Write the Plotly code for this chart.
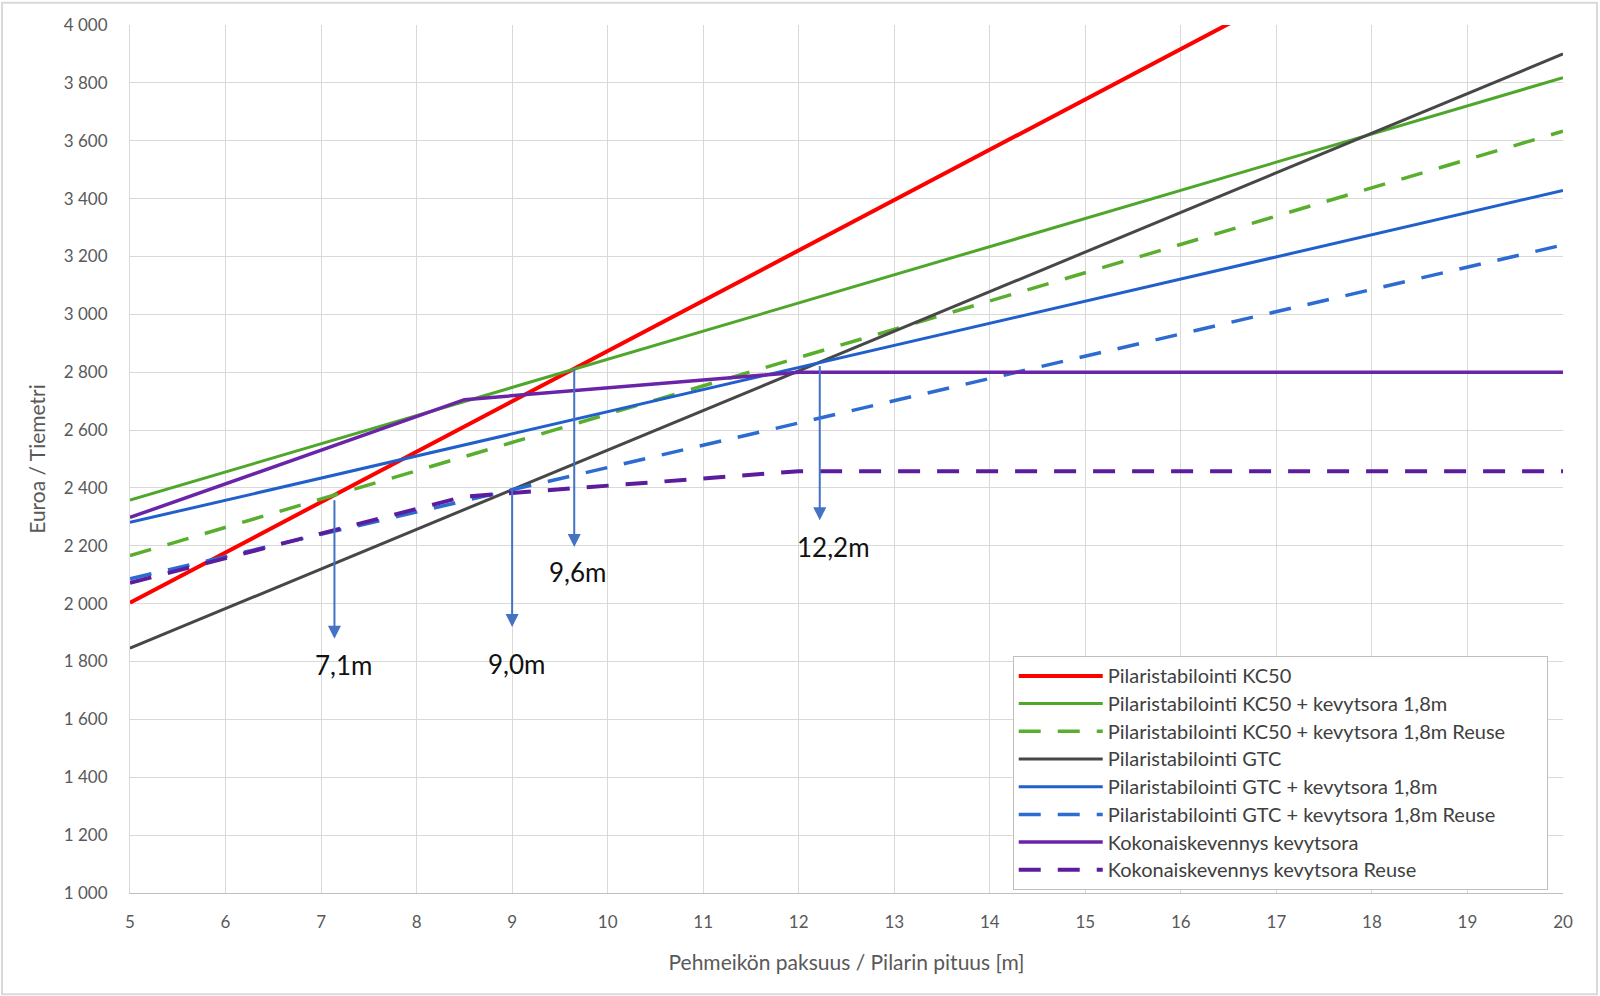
import plotly.graph_objects as go

# ---------------- data ----------------
x_lin = [5, 20]
kc50_y = [2003, 4613]
kc50_kev_y = [2358, 3818]
kc50_kev_reuse_y = [2166, 3633]
gtc_y = [1846, 3900]
gtc_kev_y = [2281, 3428]
gtc_kev_reuse_y = [2086, 3240]
kok_x = [5, 8.5, 12, 20]
kok_y = [2298, 2705, 2800, 2800]
kok_reuse_y = [2072, 2370, 2458, 2458]

names = [
    "Pilaristabilointi KC50",
    "Pilaristabilointi KC50 + kevytsora 1,8m",
    "Pilaristabilointi KC50 + kevytsora 1,8m Reuse",
    "Pilaristabilointi GTC",
    "Pilaristabilointi GTC + kevytsora 1,8m",
    "Pilaristabilointi GTC + kevytsora 1,8m Reuse",
    "Kokonaiskevennys kevytsora",
    "Kokonaiskevennys kevytsora Reuse",
]

arrow_x = [7.14, 9.0, 9.65, 12.22]
arrow_start = [2363, 2398, 2815, 2827]
arrow_end = [1879, 1919, 2196, 2288]
label_text = ["7,1m", "9,0m", "9,6m", "12,2m"]
label_x = [7.23, 9.045, 9.68, 12.36]
label_y = [1787, 1793, 2110, 2196]

x_ticks = list(range(5, 21))
y_ticks = list(range(1000, 4001, 200))

# ---------------- styles ----------------
FONT = "Lato"
DASH = "22px,17px"
series = [
    (x_lin, kc50_y, "#FF0000", "solid", 4),
    (x_lin, kc50_kev_y, "#4EA72A", "solid", 3),
    (x_lin, kc50_kev_reuse_y, "#5AAE2E", DASH, 3.5),
    (x_lin, gtc_y, "#474747", "solid", 3),
    (x_lin, gtc_kev_y, "#2160CC", "solid", 3),
    (x_lin, gtc_kev_reuse_y, "#2B6BD2", DASH, 3.5),
    (kok_x, kok_y, "#6A24A8", "solid", 3.5),
    (kok_x, kok_reuse_y, "#5C1C9E", DASH, 4),
]

longest = max(len(n) for n in names)
fig = go.Figure()
for (xs, ys, col, dash, w), nm in zip(series, names):
    pad = "&nbsp;" * 7 if len(nm) == longest else ""
    fig.add_trace(go.Scatter(
        x=xs, y=ys, mode="lines", name="<span style='font-size:20px'>" + nm + pad + "</span>",
        line=dict(color=col, width=w, dash=dash),
    ))

ann = []
for ax_, ys, ye in zip(arrow_x, arrow_start, arrow_end):
    ann.append(dict(
        x=ax_, y=ye, ax=ax_, ay=ys, xref="x", yref="y", axref="x", ayref="y",
        text="", showarrow=True, arrowhead=2, arrowsize=1.3, arrowwidth=2,
        arrowcolor="#4472C4", standoff=0, startstandoff=0,
    ))
for tx, lx, ly in zip(label_text, label_x, label_y):
    ann.append(dict(
        x=lx, y=ly, xref="x", yref="y", text=tx, showarrow=False,
        font=dict(family=FONT, size=26, color="#111111"),
    ))

fig.update_layout(
    width=1600, height=996,
    margin=dict(l=130, r=37, t=25, b=103),
    paper_bgcolor="white", plot_bgcolor="white",
    separators=", ",
    font=dict(family=FONT, color="#595959"),
    showlegend=True,
    legend=dict(
        x=0.616, y=0.273, xanchor="left", yanchor="top",
        bgcolor="white", bordercolor="#BFBFBF", borderwidth=1,
        font=dict(family=FONT, size=19, color="#404040"),
        itemwidth=84,
        tracegroupgap=0,
    ),
    annotations=ann,
    shapes=[dict(
        type="rect", xref="paper", yref="paper",
        x0=-0.0893, x1=1.0237, y0=-0.1167, y1=1.0256,
        line=dict(color="#D9D9D9", width=2), layer="below",
    )],
)

fig.update_xaxes(
    range=[5, 20], tickvals=x_ticks, showgrid=True, gridcolor="#D9D9D9", gridwidth=1,
    showline=True, linecolor="#BFBFBF", linewidth=1, zeroline=False,
    tickfont=dict(family=FONT, size=17, color="#595959"), ticklabelstandoff=14,
    title=dict(text="Pehmeikön paksuus / Pilarin pituus [m]", font=dict(family=FONT, size=21, color="#595959"), standoff=23),
)
fig.update_yaxes(
    range=[1000, 4000], tickvals=y_ticks, tickformat=",d", showgrid=True, gridcolor="#D9D9D9", gridwidth=1,
    showline=True, linecolor="#D9D9D9", linewidth=1, zeroline=False,
    tickfont=dict(family=FONT, size=17, color="#595959"), ticklabelstandoff=18,
    title=dict(text="Euroa / Tiemetri", font=dict(family=FONT, size=21, color="#595959"), standoff=12),
)

fig.write_html("out.html")
